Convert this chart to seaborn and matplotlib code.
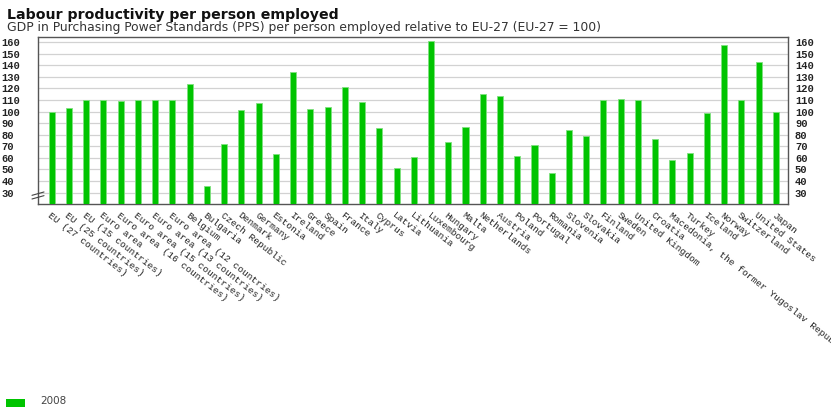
import matplotlib
matplotlib.use("Agg")
import matplotlib.pyplot as plt
import seaborn as sns
import pandas as pd

# ===================== 数据 =====================
countries = [
    "EU (27 countries)", "EU (25 countries)", "EU (15 countries)", "Euro area",
    "Euro area (16 countries)", "Euro area (15 countries)", "Euro area (13 countries)",
    "Euro area (12 countries)", "Belgium", "Bulgaria", "Czech Republic", "Denmark",
    "Germany", "Estonia", "Ireland", "Greece", "Spain", "France", "Italy", "Cyprus",
    "Latvia", "Lithuania", "Luxembourg", "Hungary", "Malta", "Netherlands", "Austria",
    "Poland", "Portugal", "Romania", "Slovenia", "Slovakia", "Finland", "Sweden",
    "United Kingdom", "Croatia", "Macedonia, the former Yugoslav Republic of",
    "Turkey", "Iceland", "Norway", "Switzerland", "United States", "Japan",
]
values_2008 = [
    100, 103, 110, 110, 109, 110, 110, 110, 124, 36, 72, 101,
    107, 63, 134, 102, 104, 121, 108, 86, 51, 61, 161, 74,
    87, 115, 113, 62, 71, 47, 84, 79, 110, 111, 110, 76,
    58, 64, 99, 157, 110, 143, 100,
]
y_ticks = list(range(30, 170, 10))

df = pd.DataFrame({"country": countries, "value": values_2008})

green = "#00c400"

sns.set_style("white")
plt.rcParams['font.family'] = ['DejaVu Sans']

fig = plt.figure(figsize=(8.31, 4.07), dpi=100)
ax = fig.add_axes([38 / 831, 1 - 204 / 407, 750 / 831, 167 / 407])

sns.barplot(data=df, x="country", y="value", color=green, width=0.35,
            edgecolor="#7fe07f", linewidth=0.6, saturation=1, ax=ax, zorder=3)

ax.set_xlim(-0.79, 42.7)
ax.set_ylim(20.2, 164.3)
ax.set_yticks(y_ticks)
ax.grid(axis="y", color="#d2d2d2", linewidth=0.9, zorder=0)
ax.grid(axis="x", visible=False)
ax.set_xlabel("")
ax.set_ylabel("")

for s in ax.spines.values():
    s.set_color("#555555")
    s.set_linewidth(1.0)

# 左右两侧刻度
ax.tick_params(axis="y", which="both", length=0, left=True, right=True,
               labelleft=True, labelright=True, pad=5)
ax.set_yticklabels([str(v) for v in y_ticks])
for lbl in ax.get_yticklabels():
    lbl.set_fontfamily("Liberation Mono")
    lbl.set_fontweight("bold")
    lbl.set_fontsize(7.5)
    lbl.set_color("#222222")
    lbl.set_horizontalalignment("left")
# 左侧标签左对齐到画布边缘
for t in ax.yaxis.get_major_ticks():
    t.label1.set_horizontalalignment("left")
    t.label1.set_x(-36.5 / 750)
    t.label1.set_transform(ax.get_yaxis_transform())
    t.label2.set_horizontalalignment("left")

# x 轴标签（斜排）
ax.tick_params(axis="x", length=0, pad=5)
ax.set_xticks(range(len(countries)))
ax.set_xticklabels(countries, rotation=-38, ha="left", va="top",
                   rotation_mode="anchor", fontfamily="Liberation Mono",
                   fontsize=6.8, color="#222222")

# 坐标轴截断标记
for dy in (0.0, 0.022):
    ax.plot([-0.008, 0.008], [0.03 + dy, 0.05 + dy], transform=ax.transAxes,
            color="#444444", linewidth=0.8, clip_on=False, zorder=5)

# 标题
fig.text(7 / 831, 1 - 15 / 407, "Labour productivity per person employed",
         fontsize=10.2, fontweight="bold", ha="left", va="center", color="#111111")
fig.text(7 / 831, 1 - 28 / 407,
         "GDP in Purchasing Power Standards (PPS) per person employed relative to EU-27 (EU-27 = 100)",
         fontsize=8.9, ha="left", va="center", color="#333333")

# 图例
fig.patches.append(plt.Rectangle((6 / 831, 0), 19 / 831, 8 / 407, transform=fig.transFigure,
                                 facecolor=green, edgecolor="none"))
fig.text(40 / 831, 1 - 401 / 407, "2008", fontsize=7.5, ha="left", va="center", color="#444444")

fig.savefig("out.png", dpi=100)
